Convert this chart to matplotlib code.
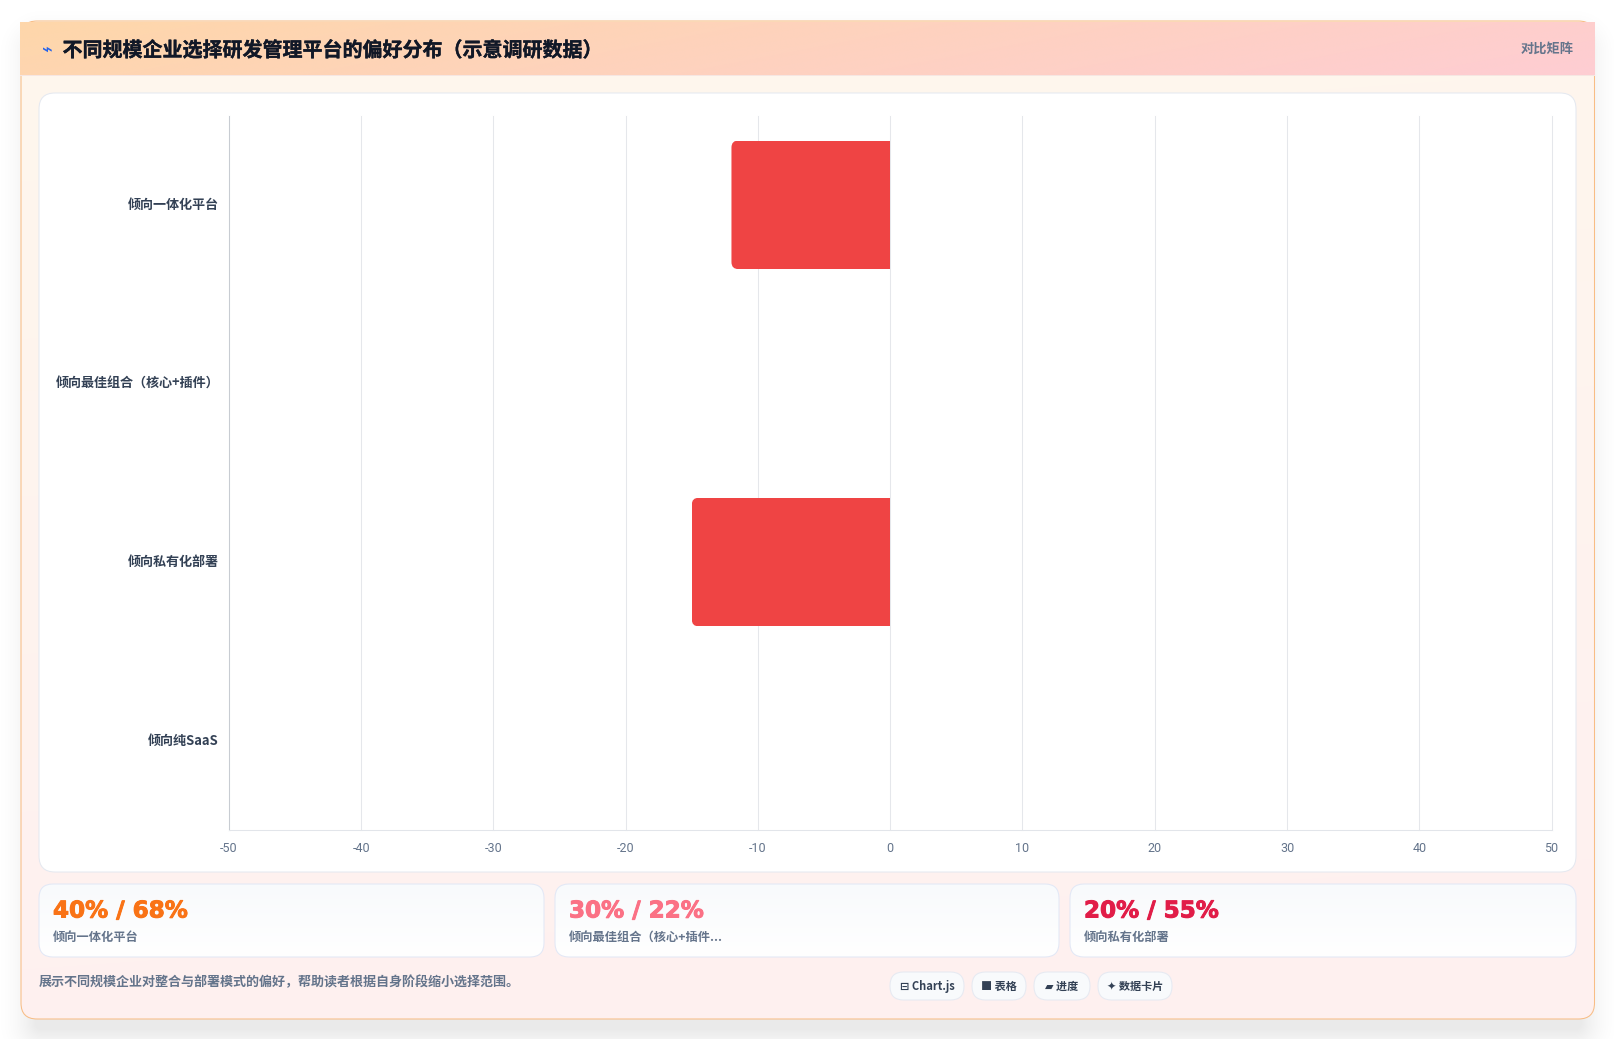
import matplotlib
matplotlib.use("Agg")
import matplotlib.patheffects as pe
import matplotlib.pyplot as plt
import numpy as np
from matplotlib.colors import to_rgb
from matplotlib.patches import FancyBboxPatch, Rectangle
from matplotlib.transforms import Affine2D, IdentityTransform

plt.rcParams["font.family"] = ["Noto Sans CJK SC", "DejaVu Sans"]

W, H = 1615, 1039

categories = ["倾向一体化平台", "倾向最佳组合（核心+插件）", "倾向私有化部署", "倾向纯SaaS"]
values = [-12, 0, -15, 0]
x_ticks = [-50, -40, -30, -20, -10, 0, 10, 20, 30, 40, 50]

title = "不同规模企业选择研发管理平台的偏好分布（示意调研数据）"
header_tag = "对比矩阵"
stat_values = ["40% / 68%", "30% / 22%", "20% / 55%"]
stat_labels = ["倾向一体化平台", "倾向最佳组合（核心+插件...", "倾向私有化部署"]
stat_colors = ["#f97316", "#fb7185", "#e11d48"]
footer = "展示不同规模企业对整合与部署模式的偏好，帮助读者根据自身阶段缩小选择范围。"
pills = ["⊟ Chart.js", "■ 表格", "▰ 进度", "✦ 数据卡片"]
pill_x = [(890, 964), (972, 1026), (1034, 1090), (1098, 1172)]

fig = plt.figure(figsize=(W / 100, H / 100), dpi=100, facecolor="white")

# page layer, coordinates are pixels
bg = fig.add_axes([0, 0, 1, 1], zorder=0)
bg.set_xlim(0, W)
bg.set_ylim(H, 0)
bg.axis("off")


def round_box(x0, y0, x1, y1, r, **kw):
    p = FancyBboxPatch((x0 + r, y0 + r), x1 - x0 - 2 * r, y1 - y0 - 2 * r,
                       boxstyle=f"round,pad={r},rounding_size={r}", **kw)
    bg.add_patch(p)
    return p


def gradient(x0, y0, x1, y1, c0, c1, ax_x, ax_y, clip=None, zorder=1):
    yy, xx = np.mgrid[0:1:200j, 0:1:200j]
    t = np.clip(ax_x * xx + ax_y * yy, 0, 1)[..., None]
    img = np.array(to_rgb(c0)) * (1 - t) + np.array(to_rgb(c1)) * t
    im = bg.imshow(img, extent=(x0, x1, y1, y0), aspect="auto", zorder=zorder,
                   interpolation="bilinear")
    if clip is not None:
        im.set_clip_path(clip)
    return im


# soft shadow around the card
card = (21, 21, 1594.5, 1019)
yy, xx = np.mgrid[0:H, 0:W]
dx = np.maximum(np.maximum(card[0] + 20 - xx, xx - card[2] + 20), 0)
dy = np.maximum(np.maximum(card[1] + 30 - yy, yy - card[3] - 4), 0)
dist = np.hypot(dx, dy) - 20
shadow = np.clip(1 - (dist + 14) / 44, 0, 1) ** 2 * 0.085
rgba = np.zeros((H, W, 4))
rgba[..., 3] = shadow
bg.imshow(rgba, extent=(0, W, H, 0), aspect="auto", zorder=0.5)
bg.set_xlim(0, W)
bg.set_ylim(H, 0)

# main card
clip_card = round_box(*card, 16, facecolor="none", edgecolor="none", zorder=1)
gradient(card[0], card[1], card[2], card[3], "#fff7ed", "#fef0f0", 0.1, 0.9,
         clip=clip_card, zorder=1)
round_box(*card, 16, facecolor="none", edgecolor="#f8bd85", linewidth=0.75, zorder=1.4)

# header
gradient(20.5, 22, 1595, 75, "#fed7aa", "#fecdd3", 0.85, 0.15, zorder=2)
bg.add_patch(Rectangle((20.5, 75), 1574.5, 1, facecolor="#f6e6e2", edgecolor="none", zorder=2))
bg.text(47, 50, "⌁", fontsize=13, color="#2563eb", ha="center", va="center",
        fontweight="bold", family=["DejaVu Sans"], zorder=3)
bg.text(62.5, 50, title, fontsize=14.4, color="#111827", fontweight="bold",
        ha="left", va="center", zorder=3,
        path_effects=[pe.withStroke(linewidth=0.25, foreground="#111827")])
bg.text(1574, 48.5, header_tag, fontsize=9.5, color="#64748b", fontweight="bold",
        ha="right", va="center", zorder=3)

# chart panel
round_box(39, 93, 1576, 872, 16, facecolor="white", edgecolor="#e5e9f0",
          linewidth=0.75, zorder=2)

# stat cards
card_x = [(39, 544), (555, 1059), (1070, 1576)]
for (x0, x1), val, lab, col in zip(card_x, stat_values, stat_labels, stat_colors):
    clip = round_box(x0, 884, x1, 957, 14, facecolor="none", edgecolor="none", zorder=2)
    gradient(x0, 884, x1, 957, "#f8fafc", "#ffffff", 0, 1, clip=clip, zorder=2)
    round_box(x0, 884, x1, 957, 14, facecolor="none", edgecolor="#e2e8f6",
              linewidth=0.75, zorder=2.2)
    bg.text(x0 + 14, 911, val, fontsize=16.6, color=col, fontweight="bold",
            family=["DejaVu Sans"], ha="left", va="center", zorder=3,
            path_effects=[pe.withStroke(linewidth=0.7, foreground=col)])
    bg.text(x0 + 14, 937.5, lab, fontsize=8.8, color="#64748b", fontweight="bold",
            ha="left", va="center", zorder=3)

# footer
bg.text(39, 982.5, footer, fontsize=9.4, color="#64748b", fontweight="bold",
        ha="left", va="center", zorder=3)
for (x0, x1), txt in zip(pill_x, pills):
    round_box(x0, 972, x1, 1000, 13.5, facecolor="#f8fafc", edgecolor="#e6eaf2",
              linewidth=0.75, zorder=2)
    bg.text((x0 + x1) / 2, 986.5, txt, fontsize=8.0, color="#334155", fontweight="bold",
            ha="center", va="center", zorder=3)

# the chart
left, right, top, bottom = 228.8, 1551.6, 115.5, 830.0
ax = fig.add_axes([left / W, 1 - bottom / H, (right - left) / W, (bottom - top) / H], zorder=5)
ax.patch.set_alpha(0)
y_pos = np.arange(len(categories))
bars = ax.barh(y_pos, values, height=0.72, color="#ef4444", zorder=3)
ax.set_xlim(-50, 50)
ax.set_ylim(len(categories) - 0.5, -0.5)
ax.set_xticks(x_ticks)
ax.set_xticklabels([str(v) for v in x_ticks], fontsize=9.0, color="#64748b", family=["Roboto"])
ax.set_yticks(y_pos)
ax.set_yticklabels(categories, fontsize=9.4, color="#334155", fontweight="bold")
ax.tick_params(axis="x", length=0, pad=9)
ax.tick_params(axis="y", length=0, pad=7.0)
for lab in ax.get_yticklabels():
    lab.set_transform(lab.get_transform() + Affine2D().translate(0, 1.5))
ax.grid(axis="x", color="#e5e7eb", linewidth=0.75, zorder=1, clip_on=False)
for name, spine in ax.spines.items():
    spine.set_visible(name in ("left", "bottom"))
    spine.set_linewidth(0.75)
ax.spines["left"].set_color("#c8ccd2")
ax.spines["bottom"].set_color("#e2e5ea")

# rounded left corners, radius in pixels
fig.canvas.draw()
for b in bars:
    if b.get_width() == 0:
        continue
    (px0, py0), (px1, py1) = ax.transData.transform(
        [(b.get_x() + b.get_width(), b.get_y()), (b.get_x(), b.get_y() + b.get_height())])
    r = 7
    clip = FancyBboxPatch((min(px0, px1) + r, min(py0, py1) + r),
                          abs(px1 - px0) + 20, abs(py1 - py0) - 2 * r,
                          boxstyle=f"round,pad={r},rounding_size={r}",
                          transform=IdentityTransform())
    b.set_clip_path(clip)

fig.savefig("out.png", dpi=100)
